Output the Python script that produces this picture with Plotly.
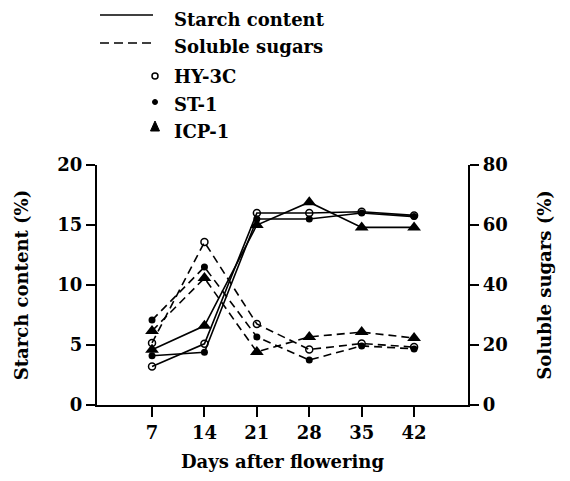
import plotly.graph_objects as go

days = [7, 14, 21, 28, 35, 42]
tick_labels = ["7", "14", "21", "28", "35", "42"]

starch_hy3c = [3.2, 5.1, 16.0, 16.0, 16.1, 15.8]
starch_st1 = [4.1, 4.4, 15.5, 15.5, 16.0, 15.7]
starch_icp1 = [4.6, 6.6, 15.0, 16.9, 14.8, 14.8]

sugar_hy3c = [20.7, 54.3, 27.0, 18.5, 20.5, 19.3]
sugar_st1 = [28.3, 46.0, 22.7, 15.0, 19.7, 18.7]
sugar_icp1 = [24.7, 42.3, 17.7, 22.7, 24.3, 22.3]

FONT = "DejaVu Serif"
FS = 18
WEIGHT = "bold"
markers = {
    "HY-3C": dict(symbol="circle-open", size=7, color="black", line=dict(width=1.5, color="black")),
    "ST-1": dict(symbol="circle", size=7, color="black"),
    "ICP-1": dict(symbol="triangle-up", size=12, color="black"),
}

fig = go.Figure()
for name, s in [("HY-3C", starch_hy3c), ("ST-1", starch_st1), ("ICP-1", starch_icp1)]:
    fig.add_trace(go.Scatter(x=days, y=s, mode="lines+markers", name=name,
                             line=dict(color="black", width=1.6), marker=markers[name],
                             showlegend=False, yaxis="y"))
for name, s in [("HY-3C", sugar_hy3c), ("ST-1", sugar_st1), ("ICP-1", sugar_icp1)]:
    fig.add_trace(go.Scatter(x=days, y=s, mode="lines+markers", name=name,
                             line=dict(color="black", width=1.6, dash="8px,5px"), marker=markers[name],
                             showlegend=False, yaxis="y2"))

# pixel -> paper helpers for the hand-drawn legend (plot area: x 97..468, y 165..405 on screen)
def px(x):
    return (x - 97) / 371.0

def py(y):
    return (405 - y) / 240.0

fig.add_shape(type="line", xref="paper", yref="paper", x0=px(100), x1=px(153), y0=py(15), y1=py(15),
              line=dict(color="black", width=1.6))
fig.add_shape(type="line", xref="paper", yref="paper", x0=px(100), x1=px(153), y0=py(43), y1=py(43),
              line=dict(color="black", width=1.6, dash="9px,5px"))
leg_items = [("Starch content", 19), ("Soluble sugars", 46), ("HY-3C", 76), ("ST-1", 104), ("ICP-1", 131)]
for txt, yy in leg_items:
    fig.add_annotation(text=txt, xref="paper", yref="paper", x=px(172), y=py(yy),
                       showarrow=False, xanchor="left", yanchor="middle",
                       font=dict(family=FONT, size=FS, color="black", weight=WEIGHT))
# legend symbols
fig.add_shape(type="circle", xref="paper", yref="paper", x0=px(152), x1=px(158), y0=py(79), y1=py(73),
              line=dict(color="black", width=1.5), fillcolor="white")
fig.add_shape(type="circle", xref="paper", yref="paper", x0=px(152.5), x1=px(157.5), y0=py(104.5), y1=py(99.5),
              line=dict(color="black", width=1), fillcolor="black")
fig.add_shape(type="path", xref="paper", yref="paper",
              path=f"M {px(150.5)},{py(131)} L {px(159.5)},{py(131)} L {px(155)},{py(121)} Z",
              line=dict(color="black", width=1), fillcolor="black")

axis_common = dict(showline=True, linecolor="black", linewidth=2.2, ticks="outside",
                   tickwidth=1.6, tickcolor="black", showgrid=False, zeroline=False,
                   tickfont=dict(family=FONT, size=FS, color="black", weight=WEIGHT))
title_font = dict(family=FONT, size=FS, color="black", weight=WEIGHT)

fig.update_layout(
    width=570, height=481,
    margin=dict(l=89, r=110, t=157, b=84),
    paper_bgcolor="white", plot_bgcolor="white",
    font=dict(family=FONT, size=FS, color="black"),
    xaxis=dict(range=[-0.35, 49.2], tickvals=days, ticktext=tick_labels, ticklen=10,
               title=dict(text="Days after flowering", standoff=14, font=title_font), **axis_common),
    yaxis=dict(range=[0, 20], tickvals=[0, 5, 10, 15, 20], ticklen=9,
               title=dict(text="Starch content (%)", standoff=24, font=title_font),
               **axis_common),
    yaxis2=dict(range=[0, 80], tickvals=[0, 20, 40, 60, 80], overlaying="y", side="right", ticklen=9,
                title=dict(text="Soluble sugars (%)", standoff=32, font=title_font),
                **axis_common),
)

fig.write_html("out.html")
